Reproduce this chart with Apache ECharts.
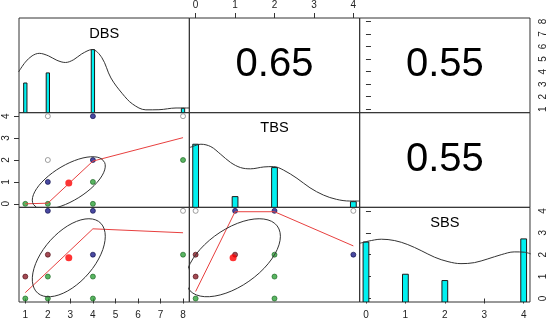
<!DOCTYPE html>
<html><head><meta charset="utf-8">
<script src="https://cdn.jsdelivr.net/npm/echarts@6/dist/echarts.min.js"></script>
<style>html,body{margin:0;padding:0;background:#fff}#c{width:550px;height:323px}</style>
</head><body><div id="c"></div>
<script>
// ---------------- data ----------------
const varNames = ['DBS', 'TBS', 'SBS'];
const varRanges = [[1, 8], [0, 4], [0, 4]];
const tickValues = [[1, 2, 3, 4, 5, 6, 7, 8], [0, 1, 2, 3, 4], [0, 1, 2, 3, 4]];
const varMeans = [2.93, 0.95, 1.86];
const varSds = [1.62, 1.2, 1.78];

// correlations (row var, col var) shown in upper panels
const corrPairs = [[0, 1], [0, 2], [1, 2]];
const corrValues = ['0.65', '0.55', '0.55'];

// histogram bars (relative to max count)
const histDBS_x = [1, 2, 4, 8];
const histDBS_h = [0.47, 0.63, 1.0, 0.07];
const histTBS_x = [0, 1, 2, 4];
const histTBS_h = [1.0, 0.17, 0.63, 0.09];
const histSBS_x = [0, 1, 2, 4];
const histSBS_h = [0.95, 0.44, 0.34, 1.0];

// density curves (scaled to max 1)
const densDBS = [[0.70, 0.645], [1.0, 0.80], [1.3, 0.9], [1.62, 0.94], [2.03, 0.9], [2.4, 0.83], [2.78, 0.795], [3.15, 0.84], [3.5, 0.93], [3.97, 1.0], [4.4, 0.87], [4.8, 0.55], [5.31, 0.3], [5.76, 0.137], [6.35, 0.045], [6.93, 0.047], [7.69, 0.074], [8.28, 0.074]];
const densTBS = [[-0.16, 0.945], [-0.075, 0.965], [0.133, 1.0], [0.385, 0.962], [0.636, 0.84], [0.888, 0.71], [1.14, 0.63], [1.39, 0.61], [1.73, 0.64], [1.98, 0.645], [2.23, 0.59], [2.57, 0.46], [2.90, 0.31], [3.24, 0.195], [3.57, 0.127], [3.91, 0.10], [4.16, 0.10]];
const densSBS = [[-0.16, 0.93], [0.05, 0.963], [0.39, 0.995], [0.73, 0.973], [1.06, 0.91], [1.40, 0.814], [1.74, 0.71], [2.08, 0.64], [2.41, 0.608], [2.75, 0.624], [3.09, 0.683], [3.43, 0.75], [3.76, 0.794], [4.02, 0.789], [4.18, 0.762]];

// scatter points [x, y, group]  (o = open, n = navy, g = green, r = dark red)
const ptsDBS_TBS = [[2, 4, 'o'], [4, 4, 'n'], [8, 4, 'o'], [2, 2, 'o'], [4, 2, 'n'], [8, 2, 'g'], [2, 1, 'n'], [4, 1, 'g'], [1, 0, 'g'], [2, 0, 'g'], [4, 0, 'g']];
const ptsDBS_SBS = [[2, 4, 'n'], [4, 4, 'n'], [8, 4, 'o'], [2, 2, 'r'], [4, 2, 'n'], [8, 2, 'g'], [1, 1, 'r'], [2, 1, 'g'], [4, 1, 'g'], [1, 0, 'g'], [2, 0, 'g'], [4, 0, 'g']];
const ptsTBS_SBS = [[0, 4, 'o'], [1, 4, 'n'], [2, 4, 'n'], [4, 4, 'o'], [0, 2, 'r'], [1, 2, 'r'], [2, 2, 'g'], [4, 2, 'n'], [0, 1, 'r'], [2, 1, 'g'], [0, 0, 'g'], [2, 0, 'g']];

// lowess fits
const lowDBS_TBS = [[1, 0], [2, 0.03], [4, 1.95], [8, 3.02]];
const lowDBS_SBS = [[1, 0.27], [2, 1.23], [4, 3.18], [8, 3.0]];
const lowTBS_SBS = [[0, 0.32], [1, 3.96], [2, 3.96], [4, 2.4]];

// --------------- layout / style ---------------
const GX = 19, GY = 18, GW = 170.33, GH = 94.67;
const BAR_HALF = 3 / 41;
const groupColors = {
  o: ['#ffffff', '#6a6a6a'],
  n: ['#1c1c8a', '#0a0a45'],
  g: ['#2fa33a', '#176020'],
  r: ['#8c1c28', '#4a0a10']
};
const FONT = 'Liberation Sans, Arial, sans-serif';

function ext(r) { const d = (r[1] - r[0]) * 0.04; return [r[0] - d, r[1] + d]; }

const grids = [], xAxes = [], yAxes = [], series = [];
const showX = { '2,0': 'bottom', '0,1': 'top', '2,2': 'bottom' };
const showY = { '0,2': 'right', '1,0': 'left', '2,2': 'right' };

function axis(gridIndex, v, pos, isY) {
  const e = ext(varRanges[v]);
  const show = !!pos;
  const a = {
    type: 'value', gridIndex, min: e[0], max: e[1], show: true,
    splitLine: { show: false }, axisLine: { show: false },
    axisTick: { show, inside: false, length: 5, customValues: tickValues[v], lineStyle: { color: '#333', width: 1 } },
    axisLabel: { show, customValues: tickValues[v], fontSize: 10, fontFamily: FONT, color: '#222', margin: 8 }
  };
  if (pos) a.position = pos;
  if (isY) { a.axisLabel.rotate = 90; }
  return a;
}

for (let r = 0; r < 3; r++) {
  for (let c = 0; c < 3; c++) {
    const g = r * 3 + c;
    grids.push({ left: GX + c * GW, top: GY + r * GH, width: GW, height: GH, show: true,
      borderColor: '#333', borderWidth: 1, backgroundColor: 'transparent', containLabel: false, outerBoundsMode: 'none' });
    xAxes.push(axis(g, c, showX[r + ',' + c], false));
    yAxes.push(axis(g, r, showY[r + ',' + c], true));
  }
}
// density y axes for diagonal panels: index 9,10,11
for (let i = 0; i < 3; i++) {
  yAxes.push({ type: 'value', gridIndex: i * 4, min: 0, max: 1.5, show: false, splitLine: { show: false } });
}

const histX = [histDBS_x, histTBS_x, histSBS_x];
const histH = [histDBS_h, histTBS_h, histSBS_h];
const dens = [densDBS, densTBS, densSBS];

const textLabel = (txt, size) => ({
  show: true, position: 'inside', formatter: txt, fontSize: size, fontFamily: FONT,
  color: '#000000', opacity: 1, textBorderWidth: 0, textBorderColor: 'transparent', textShadowBlur: 0
});

for (let i = 0; i < 3; i++) {
  const g = i * 4;
  series.push({
    type: 'custom', xAxisIndex: g, yAxisIndex: 9 + i, silent: true, clip: true,
    data: histX[i].map((x, k) => [x, histH[i][k]]),
    renderItem: function (params, api) {
      const x = api.value(0), h = api.value(1);
      const p0 = api.coord([x - BAR_HALF, 0]);
      const p1 = api.coord([x + BAR_HALF, h]);
      return { type: 'rect', shape: { x: p0[0], y: p1[1], width: p1[0] - p0[0], height: p0[1] - p1[1] },
        style: { fill: '#00f0f0', stroke: '#1a1a1a', lineWidth: 1 } };
    }
  });
  series.push({
    type: 'line', xAxisIndex: g, yAxisIndex: 9 + i, data: dens[i], smooth: 0.35, symbol: 'none', silent: true, clip: true,
    lineStyle: { color: '#333', width: 1 }
  });
  const e = varRanges[i];
  series.push({
    type: 'scatter', xAxisIndex: g, yAxisIndex: 9 + i, silent: true, symbolSize: 1,
    itemStyle: { color: '#fff', opacity: 0 },
    data: [[(e[0] + e[1]) / 2, 1.25]],
    label: textLabel(varNames[i], 14.6)
  });
}

// correlations in upper panels
corrPairs.forEach((p, k) => {
  const r = p[0], c = p[1], g = r * 3 + c;
  const ex = varRanges[c], ey = varRanges[r];
  series.push({
    type: 'scatter', xAxisIndex: g, yAxisIndex: g, silent: true, symbolSize: 1,
    itemStyle: { color: '#fff', opacity: 0 },
    data: [[(ex[0] + ex[1]) / 2, (ey[0] + ey[1]) / 2]],
    label: textLabel(corrValues[k], 40)
  });
});

// lower panels
const lowerPanels = [
  { r: 1, c: 0, pts: ptsDBS_TBS, low: lowDBS_TBS, rho: 0.65 },
  { r: 2, c: 0, pts: ptsDBS_SBS, low: lowDBS_SBS, rho: 0.55 },
  { r: 2, c: 1, pts: ptsTBS_SBS, low: lowTBS_SBS, rho: 0.55 }
];

function ellipse(xm, ym, xs, ys, rho) {
  const seg = 51, th = 1 / Math.sqrt(2), a1 = Math.sqrt(1 + rho) * th, a2 = Math.sqrt(1 - rho) * th;
  const out = [];
  for (let k = 0; k <= seg; k++) {
    const t = k * 2 * Math.PI / seg, ca = Math.cos(t), sa = Math.sin(t);
    out.push([xm + xs * (ca * a1 - sa * a2), ym + ys * (ca * a1 + sa * a2)]);
  }
  return out;
}

lowerPanels.forEach(P => {
  const g = P.r * 3 + P.c;
  series.push({
    type: 'scatter', xAxisIndex: g, yAxisIndex: g, silent: true, symbolSize: 5,
    data: P.pts.map(p => ({ value: [p[0], p[1]], itemStyle: { color: groupColors[p[2]][0], borderColor: groupColors[p[2]][1], borderWidth: 0.8 } }))
  });
  series.push({
    type: 'line', xAxisIndex: g, yAxisIndex: g, data: P.low, symbol: 'none', silent: true, clip: true,
    lineStyle: { color: '#e8403f', width: 1 }
  });
  series.push({
    type: 'line', xAxisIndex: g, yAxisIndex: g, silent: true, clip: true, symbol: 'none',
    data: ellipse(varMeans[P.c], varMeans[P.r], varSds[P.c], varSds[P.r], P.rho),
    lineStyle: { color: '#333', width: 1 }
  });
  series.push({
    type: 'scatter', xAxisIndex: g, yAxisIndex: g, silent: true, symbolSize: 7,
    data: [[varMeans[P.c], varMeans[P.r]]], itemStyle: { color: '#ff0000' }
  });
});

const chart = echarts.init(document.getElementById('c'), null, { renderer: 'canvas' });
chart.setOption({
  animation: false,
  backgroundColor: '#ffffff',
  grid: grids, xAxis: xAxes, yAxis: yAxes, series: series
});
</script></body></html>
